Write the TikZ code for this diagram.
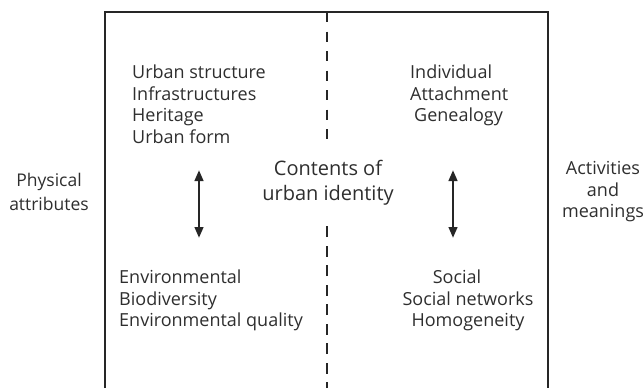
\documentclass[tikz,border=0pt]{standalone}
\usepackage{fontspec}
\setmainfont{Open Sans}
\usepackage{tikz}
\usetikzlibrary{arrows.meta,positioning}

\begin{document}
\begin{tikzpicture}[x=1pt,y=-1pt,
  txt/.style={inner sep=0pt,font=\fontsize{18}{21.5}\selectfont,text=black!82},
  twoway/.style={line width=2.6pt,black!85,{Triangle[width=8.5pt,length=11pt]}-{Triangle[width=8.5pt,length=11pt]}}]
\useasboundingbox (0,0) rectangle (644,388);
% frame, open at the bottom
\draw [line width=1.8pt,black!85] (105,388) |- (548,12) coordinate (tr) -- (548,388);
% split line
\draw [line width=1.7pt,black!85,dash pattern=on 10pt off 9.5pt] (327,12) -- (327,143);
\draw [line width=1.7pt,black!85,dash pattern=on 11pt off 8.5pt,dash phase=5pt] (327,388) -- (327,219);
% side labels
\node [txt,align=center,font=\fontsize{17.5}{24}\selectfont] (phys) at (49,192) {Physical\\attributes};
\node [txt,align=center] (acts) at (603,192) {Activities\\and\\meanings};
\node [txt,align=center,font=\fontsize{20}{25}\selectfont] (contents) at (328,183) {Contents of\\urban identity};
% the four lists
\node [txt,align=left,anchor=north west] (urban) at (132,65) {Urban structure\\Infrastructures\\Heritage\\Urban form};
\node [txt,align=left,anchor=north west] (indiv) at (410,65) {Individual\\Attachment\\\hspace*{4pt}Genealogy};
\node [txt,align=left,anchor=north west] (envir) at (119,270) {Environmental\\Biodiversity\\Environmental quality};
\node [txt,align=center,anchor=north] (social) at (468,270) {Social\hspace*{22pt}\\Social networks\\Homogeneity};
\coordinate (lt) at (199,170); \coordinate (lb) at (199,238);
\coordinate (rt) at (453,170); \coordinate (rb) at (453,238);
\draw [twoway] (lt) -- (lb);
\draw [twoway] (rt) -- (rb);
\end{tikzpicture}
\end{document}
